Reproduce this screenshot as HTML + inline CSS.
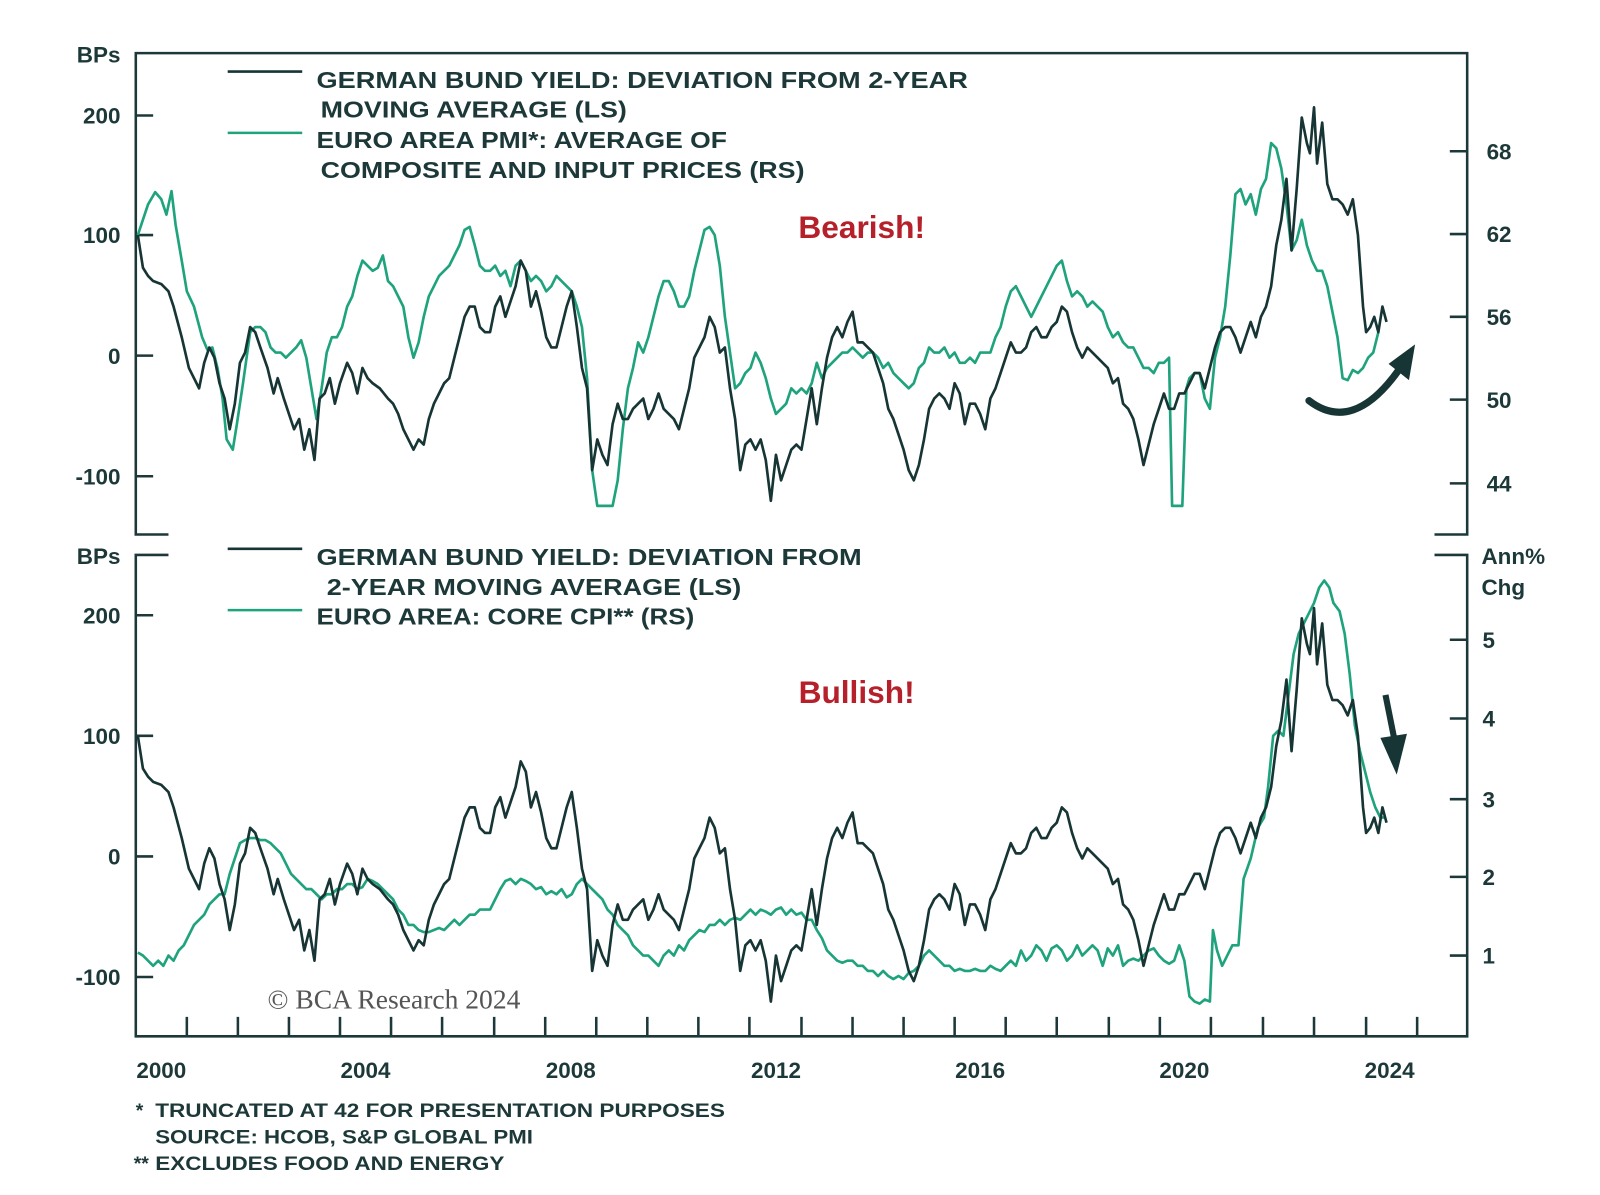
<!DOCTYPE html>
<html><head><meta charset="utf-8"><style>
html,body{margin:0;padding:0;background:#fff;}
svg{display:block;}
text{font-family:"Liberation Sans",sans-serif;fill:#1d3838;}
</style></head><body>
<svg width="1600" height="1195" viewBox="0 0 1600 1195" xmlns="http://www.w3.org/2000/svg">
<defs>
<polyline id="blk" fill="none" stroke="#173535" stroke-width="2.6" stroke-linejoin="round" points="135,230 140,262 145,270 150,275 158,278 165,285 170,300 178,330 185,360 195,380 200,355 205,340 210,350 215,375 220,390 225,420 230,395 235,355 240,345 245,320 250,325 255,340 262,360 268,385 272,370 278,390 283,405 288,420 293,410 298,440 303,420 308,450 313,390 318,385 323,370 328,395 333,375 340,355 345,365 350,385 355,360 360,370 365,375 372,380 380,390 385,395 390,405 395,420 400,430 405,440 410,430 415,435 420,410 425,395 430,385 435,375 440,370 445,350 450,330 455,310 460,300 465,300 470,320 475,325 480,325 485,300 490,290 495,310 500,295 505,280 510,255 515,265 520,300 525,285 530,305 535,330 540,340 545,340 550,320 555,300 560,285 565,320 570,360 575,380 580,460 585,430 590,445 595,455 600,415 605,395 610,410 615,410 620,400 625,395 630,390 635,410 640,400 645,385 650,400 655,405 660,410 665,420 670,400 675,380 680,350 685,340 690,330 695,310 700,320 705,345 710,340 715,380 720,410 725,460 730,435 735,430 740,440 745,430 750,450 755,490 760,445 765,470 770,455 775,440 780,435 785,440 790,410 795,380 800,415 805,380 810,350 815,330 820,320 825,330 830,315 835,305 840,335 845,335 850,340 855,345 860,360 865,375 870,400 875,410 880,425 885,440 890,460 895,470 900,455 905,430 910,400 915,390 920,385 925,390 930,400 935,375 940,385 945,415 950,395 955,395 960,405 965,420 970,390 975,380 980,365 985,350 990,335 995,345 1000,345 1005,340 1010,325 1015,320 1020,330 1025,330 1030,320 1035,315 1040,300 1045,305 1050,325 1055,340 1060,350 1065,340 1070,345 1075,350 1080,355 1085,360 1090,375 1095,370 1100,395 1105,400 1110,410 1115,430 1120,455 1125,435 1130,415 1135,400 1140,385 1145,400 1150,400 1155,385 1160,385 1165,375 1170,365 1175,365 1180,380 1185,360 1190,340 1195,325 1200,320 1205,320 1210,330 1215,345 1220,330 1225,315 1230,330 1235,310 1240,300 1245,280 1250,240 1255,215 1260,175 1265,245 1270,185 1275,115 1280,140 1283,150 1287,105 1290,160 1295,120 1300,180 1305,195 1310,195 1315,200 1320,210 1325,195 1330,230 1335,300 1338,325 1342,320 1346,310 1350,325 1354,300 1358,315"/>
</defs>
<g transform="scale(1.021,1.022)">
<g stroke="#1d3838" stroke-width="2.5" fill="none">
<path d="M165,523 H133 V52 H1437 V523 H1405"/>
<path d="M165,543 H133 V1014 H1437 V543 H1405"/>
<path d="M133,113 H150 M133,230 H150 M133,348 H150 M133,466 H150"/>
<path d="M1420,148 H1437 M1420,229 H1437 M1420,310 H1437 M1420,391 H1437 M1420,473 H1437"/>
<path d="M133,602 H150 M133,720 H150 M133,838 H150 M133,956 H150"/>
<path d="M1420,626 H1437 M1420,703 H1437 M1420,782 H1437 M1420,858 H1437 M1420,935 H1437"/>
<path d="M183,995V1014 M233,995V1014 M283,995V1014 M333,995V1014 M383,995V1014 M433,995V1014 M484,995V1014 M534,995V1014 M584,995V1014 M634,995V1014 M684,995V1014 M734,995V1014 M785,995V1014 M835,995V1014 M885,995V1014 M935,995V1014 M985,995V1014 M1035,995V1014 M1086,995V1014 M1136,995V1014 M1186,995V1014 M1237,995V1014 M1287,995V1014 M1338,995V1014 M1388,995V1014"/>
</g>
<g font-weight="bold" font-size="22" text-anchor="end">
<text x="118" y="61">BPs</text>
<text x="118" y="121">200</text><text x="118" y="238">100</text><text x="118" y="356">0</text><text x="118" y="474">-100</text>
<text x="118" y="552">BPs</text>
<text x="118" y="610">200</text><text x="118" y="728">100</text><text x="118" y="846">0</text><text x="118" y="964">-100</text>
</g>
<g font-weight="bold" font-size="22">
<text x="1456" y="156">68</text><text x="1456" y="237">62</text><text x="1456" y="318">56</text><text x="1456" y="399">50</text><text x="1456" y="481">44</text>
<text x="1451" y="552">Ann%</text><text x="1451" y="582">Chg</text>
<text x="1452" y="634">5</text><text x="1452" y="711">4</text><text x="1452" y="790">3</text><text x="1452" y="866">2</text><text x="1452" y="943">1</text>
</g>
<g font-weight="bold" font-size="22" text-anchor="middle">
<text x="158" y="1055">2000</text><text x="358" y="1055">2004</text><text x="559" y="1055">2008</text><text x="760" y="1055">2012</text><text x="960" y="1055">2016</text><text x="1160" y="1055">2020</text><text x="1361" y="1055">2024</text>
</g>
<path d="M223,70 H296 M223,537 H296" stroke="#173535" stroke-width="2.5"/>
<path d="M223,130 H296 M223,597 H296" stroke="#1fa37d" stroke-width="2.5"/>
<g font-weight="bold" font-size="23">
<text x="310" y="86" textLength="638" lengthAdjust="spacingAndGlyphs">GERMAN BUND YIELD: DEVIATION FROM 2-YEAR</text>
<text x="314" y="115" textLength="300" lengthAdjust="spacingAndGlyphs">MOVING AVERAGE (LS)</text>
<text x="310" y="145" textLength="402" lengthAdjust="spacingAndGlyphs">EURO AREA PMI*: AVERAGE OF</text>
<text x="314" y="174" textLength="474" lengthAdjust="spacingAndGlyphs">COMPOSITE AND INPUT PRICES (RS)</text>
<text x="310" y="553" textLength="534" lengthAdjust="spacingAndGlyphs">GERMAN BUND YIELD: DEVIATION FROM</text>
<text x="320" y="582" textLength="406" lengthAdjust="spacingAndGlyphs">2-YEAR MOVING AVERAGE (LS)</text>
<text x="310" y="611" textLength="370" lengthAdjust="spacingAndGlyphs">EURO AREA: CORE CPI** (RS)</text>
</g>
<text x="844" y="233" font-size="31" font-weight="bold" text-anchor="middle" style="fill:#b5202a">Bearish!</text>
<text x="839" y="688" font-size="31" font-weight="bold" text-anchor="middle" style="fill:#b5202a">Bullish!</text>
<text x="262" y="987" font-size="27" style="font-family:'Liberation Serif',serif;fill:#555">© BCA Research 2024</text>
<polyline fill="none" stroke="#1fa37d" stroke-width="2.6" stroke-linejoin="round" points="135,230 140,215 145,200 152,188 158,195 163,210 168,187 172,220 178,255 183,285 190,300 198,330 203,342 208,340 213,360 218,390 222,430 228,440 232,415 238,375 245,325 250,320 255,320 260,325 265,340 270,345 275,345 280,350 285,345 290,340 295,333 300,350 305,380 310,410 315,380 320,345 325,330 330,330 335,320 340,300 345,290 350,270 355,255 360,260 365,265 370,262 375,250 380,275 385,280 390,290 395,300 400,330 405,350 410,335 415,310 420,290 425,280 430,270 435,265 440,260 445,250 450,240 455,225 460,222 465,240 470,260 475,265 480,265 485,260 490,270 495,265 500,280 505,260 510,255 515,265 520,275 525,270 530,275 535,285 540,280 545,270 550,275 555,280 560,285 565,300 570,320 575,370 580,460 585,495 600,495 605,470 610,420 615,380 620,360 625,335 630,345 635,330 640,310 645,290 650,275 655,275 660,285 665,300 670,300 675,290 680,265 685,245 690,225 695,222 700,230 705,260 710,310 715,345 720,380 725,375 730,365 735,360 740,345 745,355 750,370 755,390 760,405 765,400 770,395 775,380 780,385 785,380 790,385 795,375 800,355 805,370 810,360 815,355 820,350 825,345 830,345 835,340 840,345 845,350 850,345 855,345 860,350 865,360 870,355 875,365 880,370 885,375 890,380 895,375 900,360 905,355 910,340 915,345 920,345 925,340 930,350 935,345 940,355 945,355 950,350 955,355 960,345 965,345 970,345 975,330 980,320 985,300 990,285 995,280 1000,290 1005,300 1010,310 1015,300 1020,290 1025,280 1030,270 1035,260 1040,255 1045,275 1050,290 1055,285 1060,290 1065,300 1070,295 1075,300 1080,305 1085,320 1090,330 1095,325 1100,335 1105,340 1110,340 1115,350 1120,360 1125,360 1130,365 1135,355 1140,355 1145,350 1148,495 1158,495 1162,380 1165,370 1170,365 1175,365 1180,390 1185,400 1190,350 1195,330 1200,300 1205,250 1210,190 1215,185 1220,200 1225,190 1230,210 1235,185 1240,175 1245,140 1250,145 1255,165 1260,200 1265,245 1270,235 1275,215 1280,240 1285,255 1290,265 1295,265 1300,280 1305,305 1310,330 1315,370 1320,372 1325,362 1330,365 1335,360 1340,350 1345,345 1350,325"/>
<use href="#blk"/>
<polyline fill="none" stroke="#1fa37d" stroke-width="2.6" stroke-linejoin="round" points="135,932 140,935 145,940 150,945 155,940 160,945 165,935 170,940 175,930 180,925 185,915 190,905 195,900 200,895 205,885 210,880 215,875 220,875 225,855 230,840 235,825 240,822 245,820 250,820 255,822 260,822 265,825 270,830 275,835 280,845 285,855 290,860 295,865 300,870 305,870 310,875 315,880 320,875 325,875 330,870 335,870 340,865 345,865 350,870 355,868 360,860 365,862 370,865 375,870 380,875 385,880 390,890 395,895 400,905 405,905 410,910 415,912 420,912 425,910 430,908 435,910 440,905 445,900 450,905 455,900 460,895 465,895 470,890 475,890 480,890 485,880 490,870 495,862 500,860 505,865 510,860 515,862 520,865 525,870 530,868 535,875 540,872 545,875 550,870 555,878 560,875 565,865 570,860 575,865 580,870 585,875 590,880 595,890 600,895 605,905 610,910 615,915 620,925 625,930 630,935 635,935 640,940 645,945 650,935 655,930 660,935 665,925 670,930 675,920 680,915 685,910 690,912 695,905 700,905 705,900 710,905 715,900 720,898 725,900 730,895 735,890 740,895 745,890 750,892 755,895 760,890 765,888 770,895 775,890 780,895 785,893 790,900 795,900 800,910 805,918 810,930 815,935 820,940 825,942 830,940 835,940 840,945 845,945 850,950 855,950 860,955 865,950 870,955 875,958 880,955 885,958 890,952 895,950 900,945 905,935 910,930 915,935 920,940 925,945 930,945 935,950 940,948 945,950 950,950 955,948 960,950 965,950 970,945 975,948 980,950 985,945 990,940 995,945 1000,930 1005,940 1010,935 1015,925 1020,930 1025,940 1030,928 1035,925 1040,930 1045,940 1050,935 1055,925 1060,935 1065,930 1070,925 1075,930 1080,945 1085,928 1090,935 1095,925 1100,945 1105,940 1110,938 1115,940 1120,935 1125,930 1130,928 1135,935 1140,940 1145,943 1150,940 1155,925 1160,940 1165,975 1170,980 1175,982 1180,978 1185,980 1188,910 1192,930 1197,945 1202,935 1207,925 1213,925 1218,860 1225,840 1232,810 1238,800 1242,770 1247,720 1252,715 1257,720 1262,680 1267,640 1272,620 1277,610 1282,600 1287,590 1292,575 1297,568 1302,575 1306,590 1312,598 1317,620 1322,660 1327,710 1332,735 1337,755 1342,775 1347,790 1352,800 1356,800"/>
<use href="#blk" y="490"/>
<path d="M1282,392 Q1325,425 1370,362" fill="none" stroke="#173535" stroke-width="7" stroke-linecap="round"/>
<polygon points="1386,337 1360,356 1380,372" fill="#173535"/>
<path d="M1357,680 L1366,725" stroke="#173535" stroke-width="6"/>
<polygon points="1352,722 1378,718 1368,758" fill="#173535"/>
<g font-weight="bold" font-size="19">
<text x="133" y="1093">*</text>
<text x="152" y="1093" textLength="558" lengthAdjust="spacingAndGlyphs">TRUNCATED AT 42 FOR PRESENTATION PURPOSES</text>
<text x="152" y="1119" textLength="370" lengthAdjust="spacingAndGlyphs">SOURCE: HCOB, S&amp;P GLOBAL PMI</text>
<text x="131" y="1145">**</text>
<text x="152" y="1145" textLength="342" lengthAdjust="spacingAndGlyphs">EXCLUDES FOOD AND ENERGY</text>
</g>
</g>
</svg>
</body></html>
